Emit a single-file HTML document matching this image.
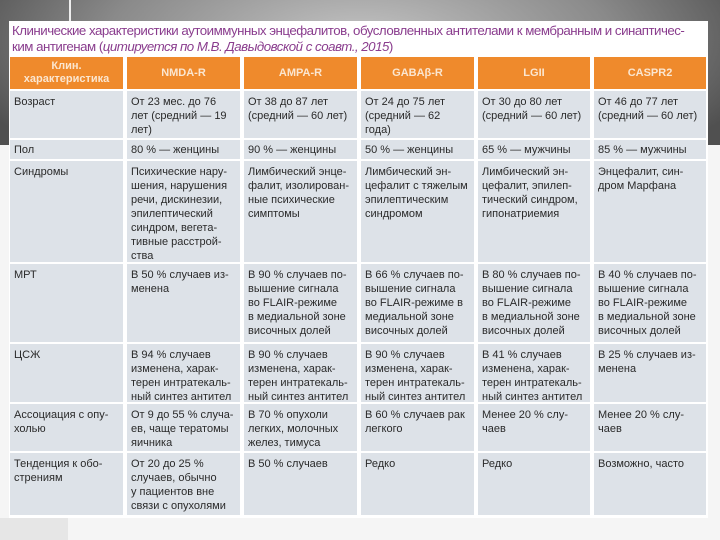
<!DOCTYPE html>
<html><head><meta charset="utf-8"><style>
body{margin:0;width:720px;height:540px;position:relative;overflow:hidden;background:#f5f5f5;font-family:"Liberation Sans",sans-serif}
.bg{position:absolute;left:0;top:0;width:720px;height:145px;background:radial-gradient(ellipse 420px 160px at 360px 40px,#c4c4c4,#8a8a8a 60%,#505050)}
.vl{position:absolute;left:69px;top:0;width:2px;height:22px;background:#eee}
.bl{position:absolute;left:0;top:518px;width:68px;height:22px;background:#e6e6e6}
.panel{position:absolute;left:9px;top:21px;width:699px;height:497px;background:#fff}
.t{position:absolute;left:12px;top:23px;font-size:13.3px;line-height:16px;color:#8a3d8e;letter-spacing:-0.5px;white-space:nowrap}
.c{position:absolute;background:#dde2e8;font-size:11px;line-height:14px;color:#2a2a2a;padding:4px 0 0 4px;box-sizing:border-box;white-space:nowrap}
.h{position:absolute;background:#ef8a2c;color:#fbe6d0;font-weight:bold;font-size:11px;line-height:13px;text-align:center;display:flex;align-items:center;justify-content:center}
</style></head><body>
<div class="bg"></div><div class="vl"></div><div class="bl"></div>
<div class="panel"></div>
<div class="t">Клинические характеристики аутоиммунных энцефалитов, обусловленных антителами к мембранным и синаптичес-<br>ким антигенам (<i>цитируется по М.В. Давыдовской с соавт., 2015</i>)</div>

<div class="h" style="left:10px;top:57px;width:113px;height:32px">Клин.<br>характеристика</div>
<div class="h" style="left:127px;top:57px;width:113px;height:32px">NMDA-R</div>
<div class="h" style="left:244px;top:57px;width:113px;height:32px">AMPA-R</div>
<div class="h" style="left:361px;top:57px;width:113px;height:32px">GABAβ-R</div>
<div class="h" style="left:478px;top:57px;width:112px;height:32px">LGII</div>
<div class="h" style="left:594px;top:57px;width:112px;height:32px">CASPR2</div>

<!-- Возраст -->
<div class="c" style="left:10px;top:91px;width:113px;height:47px">Возраст</div>
<div class="c" style="left:127px;top:91px;width:113px;height:47px">От 23 мес. до 76<br>лет (средний — 19<br>лет)</div>
<div class="c" style="left:244px;top:91px;width:113px;height:47px">От 38 до 87 лет<br>(средний — 60 лет)</div>
<div class="c" style="left:361px;top:91px;width:113px;height:47px">От 24 до 75 лет<br>(средний — 62<br>года)</div>
<div class="c" style="left:478px;top:91px;width:112px;height:47px">От 30 до 80 лет<br>(средний — 60 лет)</div>
<div class="c" style="left:594px;top:91px;width:112px;height:47px">От 46 до 77 лет<br>(средний — 60 лет)</div>
<!-- Пол -->
<div class="c" style="left:10px;top:140px;width:113px;height:19px;padding-top:3px">Пол</div>
<div class="c" style="left:127px;top:140px;width:113px;height:19px;padding-top:3px">80 % — женцины</div>
<div class="c" style="left:244px;top:140px;width:113px;height:19px;padding-top:3px">90 % — женцины</div>
<div class="c" style="left:361px;top:140px;width:113px;height:19px;padding-top:3px">50 % — женцины</div>
<div class="c" style="left:478px;top:140px;width:112px;height:19px;padding-top:3px">65 % — мужчины</div>
<div class="c" style="left:594px;top:140px;width:112px;height:19px;padding-top:3px">85 % — мужчины</div>
<!-- Синдромы -->
<div class="c" style="left:10px;top:161px;width:113px;height:101px">Синдромы</div>
<div class="c" style="left:127px;top:161px;width:113px;height:101px">Психические нару-<br>шения, нарушения<br>речи, дискинезии,<br>эпилептический<br>синдром, вегета-<br>тивные расстрой-<br>ства</div>
<div class="c" style="left:244px;top:161px;width:113px;height:101px">Лимбический энце-<br>фалит, изолирован-<br>ные психические<br>симптомы</div>
<div class="c" style="left:361px;top:161px;width:113px;height:101px">Лимбический эн-<br>цефалит с тяжелым<br>эпилептическим<br>синдромом</div>
<div class="c" style="left:478px;top:161px;width:112px;height:101px">Лимбический эн-<br>цефалит, эпилеп-<br>тический синдром,<br>гипонатриемия</div>
<div class="c" style="left:594px;top:161px;width:112px;height:101px">Энцефалит, син-<br>дром Марфана</div>
<!-- МРТ -->
<div class="c" style="left:10px;top:264px;width:113px;height:78px">МРТ</div>
<div class="c" style="left:127px;top:264px;width:113px;height:78px">В 50 % случаев из-<br>менена</div>
<div class="c" style="left:244px;top:264px;width:113px;height:78px">В 90 % случаев по-<br>вышение сигнала<br>во FLAIR-режиме<br>в медиальной зоне<br>височных долей</div>
<div class="c" style="left:361px;top:264px;width:113px;height:78px">В 66 % случаев по-<br>вышение сигнала<br>во FLAIR-режиме в<br>медиальной зоне<br>височных долей</div>
<div class="c" style="left:478px;top:264px;width:112px;height:78px">В 80 % случаев по-<br>вышение сигнала<br>во FLAIR-режиме<br>в медиальной зоне<br>височных долей</div>
<div class="c" style="left:594px;top:264px;width:112px;height:78px">В 40 % случаев по-<br>вышение сигнала<br>во FLAIR-режиме<br>в медиальной зоне<br>височных долей</div>
<!-- ЦСЖ -->
<div class="c" style="left:10px;top:344px;width:113px;height:58px">ЦСЖ</div>
<div class="c" style="left:127px;top:344px;width:113px;height:58px">В 94 % случаев<br>изменена, харак-<br>терен интратекаль-<br>ный синтез антител</div>
<div class="c" style="left:244px;top:344px;width:113px;height:58px">В 90 % случаев<br>изменена, харак-<br>терен интратекаль-<br>ный синтез антител</div>
<div class="c" style="left:361px;top:344px;width:113px;height:58px">В 90 % случаев<br>изменена, харак-<br>терен интратекаль-<br>ный синтез антител</div>
<div class="c" style="left:478px;top:344px;width:112px;height:58px">В 41 % случаев<br>изменена, харак-<br>терен интратекаль-<br>ный синтез антител</div>
<div class="c" style="left:594px;top:344px;width:112px;height:58px">В 25 % случаев из-<br>менена</div>
<!-- Ассоциация -->
<div class="c" style="left:10px;top:404px;width:113px;height:47px">Ассоциация с опу-<br>холью</div>
<div class="c" style="left:127px;top:404px;width:113px;height:47px">От 9 до 55 % случа-<br>ев, чаще тератомы<br>яичника</div>
<div class="c" style="left:244px;top:404px;width:113px;height:47px">В 70 % опухоли<br>легких, молочных<br>желез, тимуса</div>
<div class="c" style="left:361px;top:404px;width:113px;height:47px">В 60 % случаев рак<br>легкого</div>
<div class="c" style="left:478px;top:404px;width:112px;height:47px">Менее 20 % слу-<br>чаев</div>
<div class="c" style="left:594px;top:404px;width:112px;height:47px">Менее 20 % слу-<br>чаев</div>
<!-- Тенденция -->
<div class="c" style="left:10px;top:453px;width:113px;height:62px">Тенденция к обо-<br>стрениям</div>
<div class="c" style="left:127px;top:453px;width:113px;height:62px">От 20 до 25 %<br>случаев, обычно<br>у пациентов вне<br>связи с опухолями</div>
<div class="c" style="left:244px;top:453px;width:113px;height:62px">В 50 % случаев</div>
<div class="c" style="left:361px;top:453px;width:113px;height:62px">Редко</div>
<div class="c" style="left:478px;top:453px;width:112px;height:62px">Редко</div>
<div class="c" style="left:594px;top:453px;width:112px;height:62px">Возможно, часто</div>
</body></html>
